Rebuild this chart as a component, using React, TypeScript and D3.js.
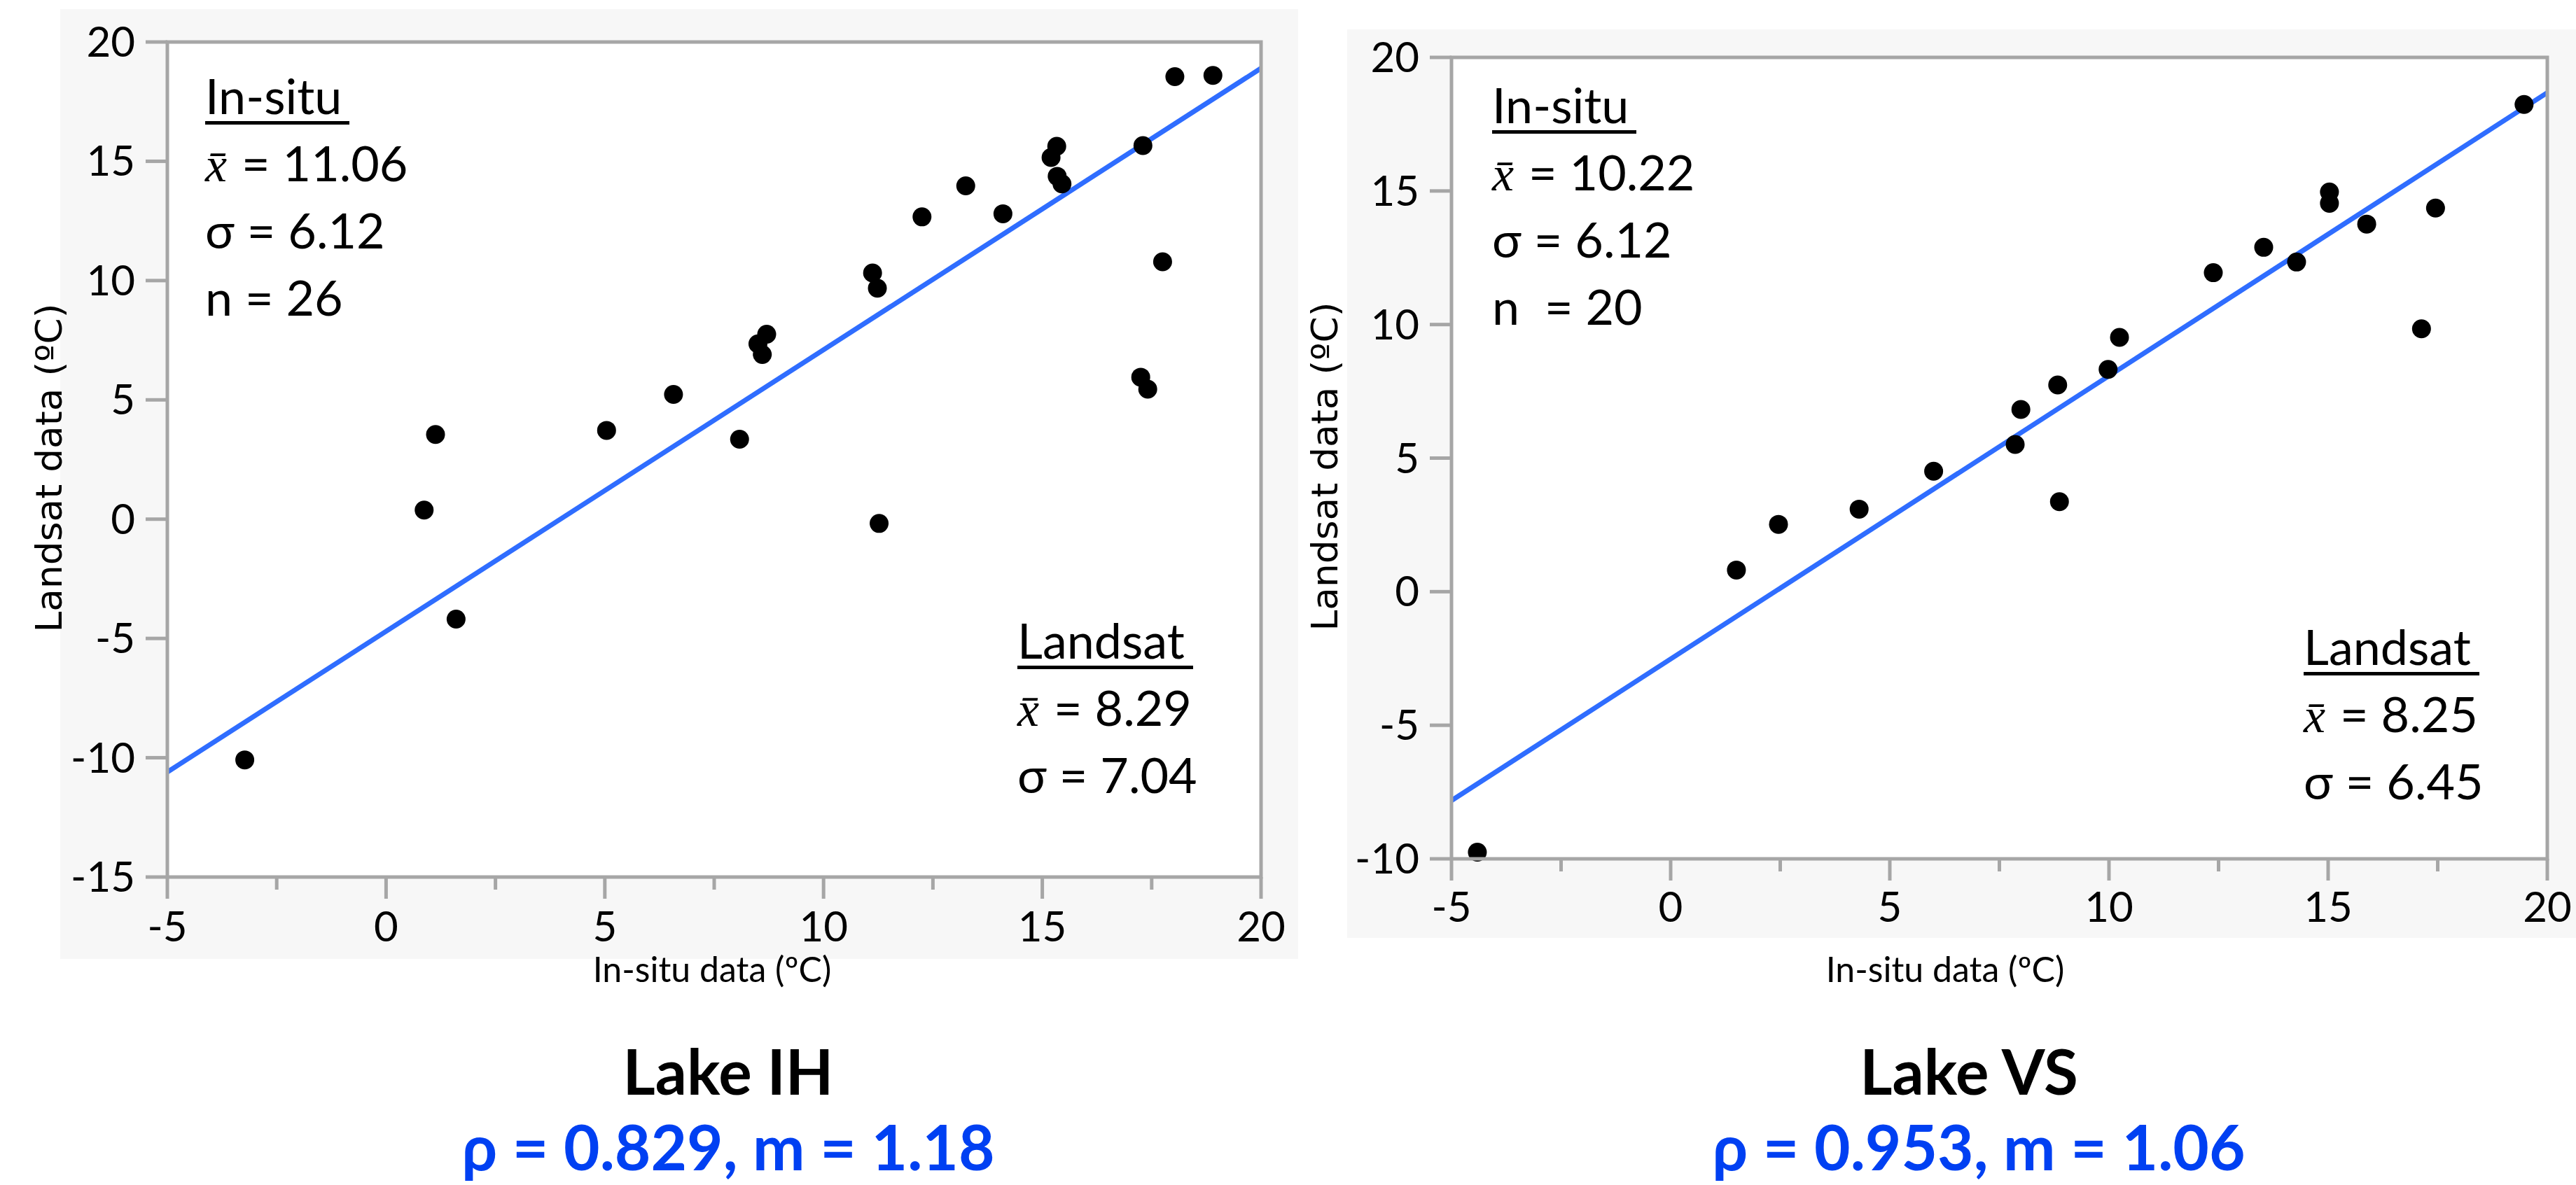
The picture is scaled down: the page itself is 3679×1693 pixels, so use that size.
import React from "react";
import * as d3 from "d3";

// ---------- data ----------
const ihInsitu = [-3.23, 0.87, 1.13, 1.6, 5.04, 6.57, 8.08, 8.7, 8.5, 8.6, 11.12, 11.23, 11.27, 12.25, 13.25, 14.1, 15.2, 15.33, 15.34, 15.45, 17.25, 17.41, 17.3, 17.75, 18.03, 18.9];
const ihLandsat = [-10.09, 0.38, 3.55, -4.19, 3.72, 5.23, 3.35, 7.75, 7.35, 6.9, 10.32, 9.68, -0.18, 12.67, 13.97, 12.8, 15.16, 15.63, 14.37, 14.05, 5.95, 5.45, 15.66, 10.79, 18.55, 18.6];
const vsInsitu = [-4.41, 1.5, 2.46, 4.3, 6.0, 7.86, 7.99, 8.83, 8.87, 9.98, 10.24, 12.38, 13.53, 14.28, 15.03, 15.03, 15.88, 17.13, 17.45, 19.47];
const vsLandsat = [-9.75, 0.81, 2.52, 3.09, 4.51, 5.51, 6.82, 7.74, 3.37, 8.32, 9.52, 11.94, 12.89, 12.34, 14.96, 14.54, 13.76, 9.84, 14.36, 18.24];

const xTicks = [-5, 0, 5, 10, 15, 20];
const xMinorTicks = [-2.5, 2.5, 7.5, 12.5, 17.5];
const ihYTicks = [-15, -10, -5, 0, 5, 10, 15, 20];
const vsYTicks = [-10, -5, 0, 5, 10, 15, 20];

const ihFit = { slope: 1.18, intercept: -4.7 };
const vsFit = { slope: 1.06, intercept: -2.52 };

const ihInsituStats = ["11.06", "6.12", "26"];
const ihLandsatStats = ["8.29", "7.04"];
const vsInsituStats = ["10.22", "6.12", "20"];
const vsLandsatStats = ["8.25", "6.45"];

const lakeNames = ["Lake IH", "Lake VS"];
const lakeStats = ["ρ = 0.829, m = 1.18", "ρ = 0.953, m = 1.06"];

const FONT = "Lato, 'Open Sans', sans-serif";
const GRAY = "#a6a6a6";
const LINE_BLUE = "#2f6dff";
const TITLE_BLUE = "#0040f2";

function XBar({ x, y, size }: { x: number; y: number; size: number }) {
  return (
    <text x={x} y={y} fontSize={size} fontFamily="'Liberation Serif', serif" fontStyle="italic">
      x̄
    </text>
  );
}

function Panel(props: any) {
  const {
    panel, plot, yDomain, yTicks, xs, ys, fit, insitu, landsat, nLabel,
    insituPos, landsatPos, yTitleX, xTitleX, xLabelDy,
  } = props;
  const x = d3.scaleLinear().domain([-5, 20]).range([plot.x0, plot.x1]);
  const y = d3.scaleLinear().domain(yDomain).range([plot.y1, plot.y0]);
  const line = d3.line<number>().x((d) => x(d)).y((d) => y(fit.slope * d + fit.intercept));
  const statSize = 70;
  const lh = 96;
  const ulw = [206, 251];
  return (
    <g>
      <rect x={panel.x} y={panel.y} width={panel.w} height={panel.h} fill="#f7f7f7" />
      <rect x={plot.x0} y={plot.y0} width={plot.x1 - plot.x0} height={plot.y1 - plot.y0} fill="#fff" />
      {/* y ticks */}
      {yTicks.map((t: number) => (
        <g key={"y" + t}>
          <line x1={plot.x0 - 31} x2={plot.x0} y1={y(t)} y2={y(t)} stroke={GRAY} strokeWidth={5} />
          <text x={plot.x0 - 46} y={y(t) + 21} textAnchor="end" fontFamily={FONT} fontSize={60} fill="#000">
            {t}
          </text>
        </g>
      ))}
      {/* x ticks */}
      {xTicks.map((t) => (
        <g key={"x" + t}>
          <line x1={x(t)} x2={x(t)} y1={plot.y1} y2={plot.y1 + 31} stroke={GRAY} strokeWidth={5} />
          <text x={x(t)} y={plot.y1 + xLabelDy} textAnchor="middle" fontFamily={FONT} fontSize={60} fill="#000">
            {t}
          </text>
        </g>
      ))}
      {xMinorTicks.map((t) => (
        <line key={"m" + t} x1={x(t)} x2={x(t)} y1={plot.y1} y2={plot.y1 + 18} stroke={GRAY} strokeWidth={5} />
      ))}
      {/* data */}
      <path d={line([-5, 20]) || ""} stroke={LINE_BLUE} strokeWidth={7} fill="none" />
      {xs.map((v: number, i: number) => (
        <circle key={i} cx={x(v)} cy={y(ys[i])} r={13.5} fill="#000" />
      ))}
      <rect x={plot.x0} y={plot.y0} width={plot.x1 - plot.x0} height={plot.y1 - plot.y0} fill="none" stroke={GRAY} strokeWidth={5} />
      {/* stats */}
      <g fontFamily={FONT} fontSize={statSize} fill="#000">
        <text x={insituPos[0]} y={insituPos[1]}>In-situ</text>
        <rect x={insituPos[0]} y={insituPos[1] + 10} width={ulw[0]} height={5} fill="#000" />
        <XBar x={insituPos[0]} y={insituPos[1] + lh} size={statSize} />
        <text x={insituPos[0] + 52} y={insituPos[1] + lh}>= {insitu[0]}</text>
        <text x={insituPos[0]} y={insituPos[1] + 2 * lh}>σ = {insitu[1]}</text>
        <text x={insituPos[0]} y={insituPos[1] + 3 * lh} style={{ whiteSpace: "pre" }}>{nLabel}{insitu[2]}</text>

        <text x={landsatPos[0]} y={landsatPos[1]}>Landsat</text>
        <rect x={landsatPos[0]} y={landsatPos[1] + 10} width={ulw[1]} height={5} fill="#000" />
        <XBar x={landsatPos[0]} y={landsatPos[1] + lh} size={statSize} />
        <text x={landsatPos[0] + 52} y={landsatPos[1] + lh}>= {landsat[0]}</text>
        <text x={landsatPos[0]} y={landsatPos[1] + 2 * lh}>σ = {landsat[1]}</text>
      </g>
      {/* axis titles */}
      <text x={xTitleX} y={1403} textAnchor="middle" fontFamily={FONT} fontSize={50} fill="#000">
        In-situ data (ºC)
      </text>
      <text
        transform={`translate(${yTitleX},${(plot.y0 + plot.y1) / 2 + 12}) rotate(-90)`}
        textAnchor="middle"
        fontFamily="'DejaVu Sans', Verdana, sans-serif"
        fontSize={52}
        textLength={470}
        lengthAdjust="spacingAndGlyphs"
        fill="#000"
      >
        Landsat data (ºC)
      </text>
    </g>
  );
}

export default function App() {
  return (
    <svg
      width={3679}
      height={1693}
      viewBox="0 0 3679 1693"
      style={{ position: "absolute", left: 0, top: 0, background: "#fff" }}
    >
      <rect x={0} y={0} width={3679} height={1693} fill="#fff" />
      <Panel
        panel={{ x: 86, y: 13, w: 1768, h: 1357 }}
        plot={{ x0: 239, x1: 1801, y0: 60, y1: 1253 }}
        yDomain={[-15, 20]}
        yTicks={ihYTicks}
        xs={ihInsitu}
        ys={ihLandsat}
        fit={ihFit}
        insitu={ihInsituStats}
        landsat={ihLandsatStats}
        nLabel="n = "
        insituPos={[293, 163]}
        landsatPos={[1453, 941]}
        yTitleX={88}
        xTitleX={1017}
        xLabelDy={92}
      />
      <Panel
        panel={{ x: 1924, y: 42, w: 1755, h: 1298 }}
        plot={{ x0: 2073, x1: 3638, y0: 82, y1: 1227 }}
        yDomain={[-10, 20]}
        yTicks={vsYTicks}
        xs={vsInsitu}
        ys={vsLandsat}
        fit={vsFit}
        insitu={vsInsituStats}
        landsat={vsLandsatStats}
        nLabel="n  = "
        insituPos={[2131, 176]}
        landsatPos={[3290, 950]}
        yTitleX={1910}
        xTitleX={2778}
        xLabelDy={90}
      />
      {/* lake titles */}
      {lakeNames.map((n, i) => (
        <text key={n} x={i === 0 ? 1040 : 2812} y={1564} textAnchor="middle" fontFamily={FONT} fontWeight="bold" fontSize={89} fill="#000">
          {n}
        </text>
      ))}
      {lakeStats.map((s, i) => (
        <text key={s} x={i === 0 ? 1040 : 2826} y={1672} textAnchor="middle" fontFamily={FONT} fontWeight="bold" fontSize={89} fill={TITLE_BLUE}>
          {s}
        </text>
      ))}
    </svg>
  );
}
